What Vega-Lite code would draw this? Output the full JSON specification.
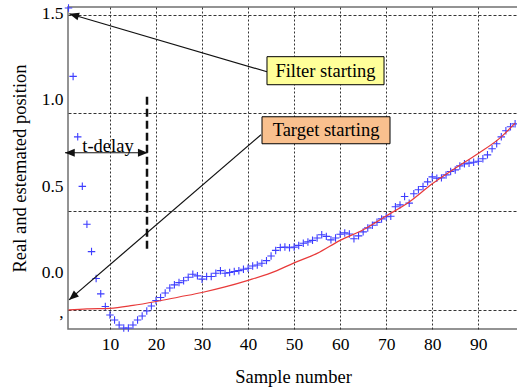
{
"$schema": "https://vega.github.io/schema/vega-lite/v6.json",
"width": 450,
"height": 322,
"autosize": {"type": "none"},
"padding": {"left": 68, "top": 7, "right": 0, "bottom": 60},
"background": "white",
"config": {
  "view": {"stroke": "#707070", "strokeWidth": 1.5},
  "font": "Times New Roman, Liberation Serif, serif",
  "axis": {"labelFont": "Times New Roman, Liberation Serif, serif", "titleFont": "Times New Roman, Liberation Serif, serif", "labelColor": "black", "titleColor": "black", "titleFontWeight": "normal", "labelFontSize": 17.5, "titleFontSize": 18.5, "domain": false, "ticks": false, "gridColor": "#333333", "gridWidth": 1}
},
"encoding": {
  "x": {"field": "x", "type": "quantitative", "scale": {"domain": [0.89, 98.63], "nice": false, "zero": false},
        "axis": {"title": "Sample number", "values": [10, 20, 30, 40, 50, 60, 70, 80, 90], "grid": true, "gridDash": [2, 2], "labelPadding": 6, "titlePadding": 15}},
  "y": {"field": "y", "type": "quantitative", "scale": {"domain": [-0.324, 1.536], "nice": false, "zero": false},
        "axis": {"title": "Real and estemated position", "values": [-0.231, -0.214, 0, 0.358, 0.5, 0.925, 1, 1.491, 1.5],
                 "labelExpr": "datum.value == 0 ? '0.0' : datum.value == 0.5 ? '0.5' : datum.value == 1 ? '1.0' : datum.value == 1.5 ? '1.5' : datum.value == -0.231 ? ',' : ''",
                 "labelOverlap": false, "labelBound": false, "grid": true, "gridDash": [3, 2],
                 "gridOpacity": {"condition": {"test": "datum.value == -0.214 || datum.value == 0.358 || datum.value == 0.925 || datum.value == 1.491", "value": 1}, "value": 0},
                 "labelPadding": 5, "titlePadding": 12}}
},
"layer": [
  {
    "data": {"values": [
      {"x":1,"y":1.53},{"x":2,"y":1.135},{"x":3,"y":0.786},{"x":4,"y":0.5},{"x":5,"y":0.281},{"x":6,"y":0.123},{"x":7,"y":-0.032},{"x":8,"y":-0.121},{"x":9,"y":-0.194},{"x":10,"y":-0.243},
      {"x":11,"y":-0.272},{"x":12,"y":-0.301},{"x":13,"y":-0.318},{"x":14,"y":-0.318},{"x":15,"y":-0.301},{"x":16,"y":-0.272},{"x":17,"y":-0.249},{"x":18,"y":-0.22},{"x":19,"y":-0.191},{"x":20,"y":-0.159},
      {"x":21,"y":-0.142},{"x":22,"y":-0.116},{"x":23,"y":-0.087},{"x":24,"y":-0.069},{"x":25,"y":-0.056},{"x":26,"y":-0.045},{"x":27,"y":-0.025},{"x":28,"y":-0.008},{"x":29,"y":-0.017},{"x":30,"y":-0.036},
      {"x":31,"y":-0.021},{"x":32,"y":-0.021},{"x":33,"y":-0.002},{"x":34,"y":0.013},{"x":35,"y":-0.002},{"x":36,"y":0.002},{"x":37,"y":0.008},{"x":38,"y":0.013},{"x":39,"y":0.021},{"x":40,"y":0.027},
      {"x":41,"y":0.04},{"x":42,"y":0.046},{"x":43,"y":0.056},{"x":44,"y":0.071},{"x":45,"y":0.098},{"x":46,"y":0.13},{"x":47,"y":0.147},{"x":48,"y":0.149},{"x":49,"y":0.145},{"x":50,"y":0.149},
      {"x":51,"y":0.159},{"x":52,"y":0.171},{"x":53,"y":0.179},{"x":54,"y":0.188},{"x":55,"y":0.202},{"x":56,"y":0.22},{"x":57,"y":0.211},{"x":58,"y":0.191},{"x":59,"y":0.202},{"x":60,"y":0.223},
      {"x":61,"y":0.231},{"x":62,"y":0.225},{"x":63,"y":0.197},{"x":64,"y":0.214},{"x":65,"y":0.237},{"x":66,"y":0.26},{"x":67,"y":0.275},{"x":68,"y":0.292},{"x":69,"y":0.312},{"x":70,"y":0.324},
      {"x":71,"y":0.327},{"x":72,"y":0.382},{"x":73,"y":0.393},{"x":74,"y":0.441},{"x":75,"y":0.403},{"x":76,"y":0.457},{"x":77,"y":0.48},{"x":78,"y":0.499},{"x":79,"y":0.526},{"x":80,"y":0.555},
      {"x":81,"y":0.547},{"x":82,"y":0.549},{"x":83,"y":0.566},{"x":84,"y":0.586},{"x":85,"y":0.595},{"x":86,"y":0.618},{"x":87,"y":0.63},{"x":88,"y":0.634},{"x":89,"y":0.639},{"x":90,"y":0.645},
      {"x":91,"y":0.659},{"x":92,"y":0.682},{"x":93,"y":0.717},{"x":94,"y":0.746},{"x":95,"y":0.786},{"x":96,"y":0.821},{"x":97,"y":0.844},{"x":98,"y":0.861}
    ]},
    "mark": {"type": "point", "shape": "M-1,0H1M0,-1V1", "size": 56, "color": "#3d3dff", "strokeWidth": 1.1, "filled": false, "opacity": 1}
  },
  {
    "data": {"values": [
      {"x":1,"y":-0.214},{"x":5,"y":-0.208},{"x":10,"y":-0.205},{"x":15,"y":-0.188},{"x":20,"y":-0.165},{"x":25,"y":-0.139},{"x":30,"y":-0.113},{"x":35,"y":-0.081},{"x":40,"y":-0.043},{"x":45,"y":0.0},
      {"x":50,"y":0.058},{"x":55,"y":0.113},{"x":60,"y":0.188},{"x":65,"y":0.249},{"x":70,"y":0.329},{"x":75,"y":0.41},{"x":80,"y":0.515},{"x":85,"y":0.605},{"x":90,"y":0.69},{"x":95,"y":0.786},{"x":98,"y":0.865}
    ]},
    "mark": {"type": "line", "color": "#e83a3a", "strokeWidth": 1.2, "interpolate": "monotone"}
  },
  {
    "data": {"values": [
      {"x": 44.11, "y": 1.162, "x2": 1.17, "y2": 1.497},
      {"x": 42.81, "y": 0.798, "x2": 1.11, "y2": -0.156},
      {"x": 0.24, "y": 0.694, "x2": 18.2, "y2": 0.694}
    ]},
    "mark": {"type": "rule", "color": "#111111", "strokeWidth": 1.2},
    "encoding": {"x2": {"field": "x2"}, "y2": {"field": "y2"}}
  },
  {
    "data": {"values": [{"x": 18.05, "y": 1.017, "x2": 18.05, "y2": 0.121}]},
    "mark": {"type": "rule", "color": "#111111", "strokeWidth": 2.5, "strokeDash": [8, 4]},
    "encoding": {"x2": {"field": "x2"}, "y2": {"field": "y2"}}
  },
  {
    "data": {"values": [
      {"x": 44.11, "x2": 69.53, "y": 1.249, "y2": 1.087, "box": "Filter starting"},
      {"x": 43.03, "x2": 70.83, "y": 0.902, "y2": 0.746, "box": "Target starting"}
    ]},
    "mark": {"type": "rect", "stroke": "black", "strokeWidth": 1},
    "encoding": {"x2": {"field": "x2"}, "y2": {"field": "y2"},
                 "fill": {"field": "box", "type": "nominal", "scale": {"domain": ["Filter starting", "Target starting"], "range": ["#ffff99", "#f9c08e"]}, "legend": null}}
  },
  {
    "data": {"values": [
      {"x": 56.82, "y": 1.168, "label": "Filter starting"},
      {"x": 56.93, "y": 0.824, "label": "Target starting"},
      {"x": 9.58, "y": 0.734, "label": "t-delay"}
    ]},
    "mark": {"type": "text", "font": "Times New Roman, Liberation Serif, serif", "fontSize": 18.5, "align": "center", "baseline": "middle", "color": "black"},
    "encoding": {"text": {"field": "label"}}
  },
  {
    "data": {"values": [{"x": 1.17, "y": 1.497}]},
    "mark": {"type": "point", "shape": "M0,0L-0.4,1L0.4,1Z", "size": 380, "filled": true, "color": "#111111", "opacity": 1, "angle": 286.35}
  },
  {
    "data": {"values": [{"x": 1.11, "y": -0.156}]},
    "mark": {"type": "point", "shape": "M0,0L-0.4,1L0.4,1Z", "size": 380, "filled": true, "color": "#111111", "opacity": 1, "angle": 229.3}
  },
  {
    "data": {"values": [{"x": 0.24, "y": 0.694}]},
    "mark": {"type": "point", "shape": "M0,0L-0.4,1L0.4,1Z", "size": 380, "filled": true, "color": "#111111", "opacity": 1, "angle": 270}
  },
  {
    "data": {"values": [{"x": 18.2, "y": 0.694}]},
    "mark": {"type": "point", "shape": "M0,0L-0.4,1L0.4,1Z", "size": 380, "filled": true, "color": "#111111", "opacity": 1, "angle": 90}
  }
]
}
